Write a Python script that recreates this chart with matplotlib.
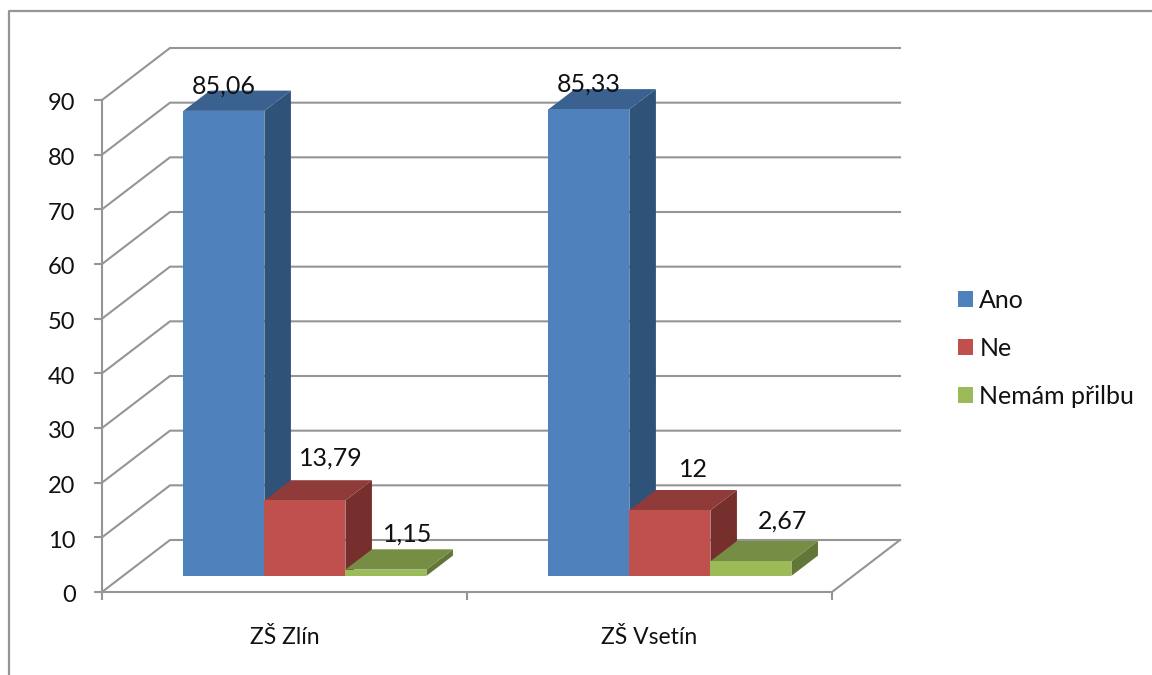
import matplotlib
matplotlib.use('Agg')
import matplotlib.pyplot as plt
from matplotlib.lines import Line2D
from matplotlib.patches import Polygon
from matplotlib.transforms import ScaledTranslation

plt.rcParams['font.family'] = ['Lato', 'DejaVu Sans']

categories = ['ZŠ Zlín', 'ZŠ Vsetín']
series_names = ['Ano', 'Ne', 'Nemám přilbu']
ano = [85.06, 85.33]
ne = [13.79, 12]
nemam = [1.15, 2.67]
y_ticks = [0, 10, 20, 30, 40, 50, 60, 70, 80, 90]

# front, top, side shades for each series
front_colors = ['#4F81BD', '#C0504D', '#9BBB59']
top_colors = ['#3B6190', '#8F3B39', '#758E43']
side_colors = ['#2F5279', '#772F2D', '#617637']

# hand placed label shifts in pixels, per series then per category
label_shift = [[(0, 25), (0, 25)], [(26, 42), (24, 41)], [(22, 36), (32, 40)]]

W, H = 1152, 675
LEFT, RIGHT, TOP, BOTTOM = 102, 832, 100, 592
GRAY = '#959595'
TEXT = '#111111'

fig = plt.figure(figsize=(W / 100, H / 100), dpi=100)
ax = fig.add_axes([LEFT / W, 1 - BOTTOM / H, (RIGHT - LEFT) / W, (BOTTOM - TOP) / H])
ax.set_xlim(0, len(categories))
ax.set_ylim(0, 90)
ax.patch.set_alpha(0)

# depth of the oblique projection, in data units
wall_dx = 68 / (RIGHT - LEFT) * len(categories)
wall_dy = 52 / (BOTTOM - TOP) * 90

# gridlines run up the side wall and along the back wall
for v in y_ticks:
    ax.plot([0, wall_dx, len(categories) + wall_dx], [v, v + wall_dy, v + wall_dy],
            color=GRAY, lw=1.5, clip_on=False, zorder=1, solid_joinstyle='miter')
ax.plot([len(categories), len(categories) + wall_dx], [0, wall_dy],
        color=GRAY, lw=1.5, clip_on=False, zorder=1)

# bars stand inside the floor, a fraction of the way back
base = 0.30
depth = 0.39
bar_w = 0.222
gap = (1 - 3 * bar_w) / 2
z = 3
for s, (values, name) in enumerate(zip([ano, ne, nemam], series_names)):
    lefts = [i + gap + s * bar_w + base * wall_dx for i in range(len(categories))]
    bottom = 0.31 * wall_dy
    bars = ax.bar(lefts, values, bar_w, bottom=bottom, align='edge', color=front_colors[s],
                  label=name, clip_on=False, zorder=z + 2)
    ddx = depth * wall_dx
    ddy = depth * wall_dy
    for x0, v, shift in zip(lefts, values, label_shift[s]):
        y1 = bottom + v
        ax.add_patch(Polygon([(x0, y1), (x0 + ddx, y1 + ddy), (x0 + bar_w + ddx, y1 + ddy), (x0 + bar_w, y1)],
                             closed=True, color=top_colors[s], lw=0, clip_on=False, zorder=z + 1))
        ax.add_patch(Polygon([(x0 + bar_w, bottom), (x0 + bar_w + ddx, bottom + ddy), (x0 + bar_w + ddx, y1 + ddy),
                              (x0 + bar_w, y1)],
                             closed=True, color=side_colors[s], lw=0, clip_on=False, zorder=z))
        ax.annotate(f'{v:g}'.replace('.', ','), (x0 + bar_w / 2, y1), xytext=shift,
                    textcoords='offset pixels', ha='center', va='center', fontsize=18,
                    color=TEXT, zorder=20, annotation_clip=False)
    z += 3

for side in ['top', 'right']:
    ax.spines[side].set_visible(False)
for side in ['left', 'bottom']:
    ax.spines[side].set_color(GRAY)
    ax.spines[side].set_linewidth(1.5)
    ax.spines[side].set_zorder(2)

ax.set_yticks(y_ticks)
ax.tick_params(axis='y', length=6, width=1.5, color=GRAY, pad=13, labelsize=17, labelcolor=TEXT)
# nudge the value labels down a little so they sit level with their ticks
nudge = ScaledTranslation(0, -2 / 100, fig.dpi_scale_trans)
for label in ax.get_yticklabels():
    label.set_verticalalignment('center_baseline')
    label.set_transform(label.get_transform() + nudge)
ax.set_xticks(range(len(categories) + 1))
ax.set_xticklabels([])
ax.tick_params(axis='x', which='major', length=6, width=1.5, color=GRAY)
ax.set_xticks([i + 0.5 for i in range(len(categories))], minor=True)
ax.set_xticklabels(categories, minor=True, fontsize=16.5, color=TEXT)
ax.tick_params(axis='x', which='minor', length=0, pad=25.5)

ax.legend(loc='center left', bbox_to_anchor=(958 / W, 1 - 348 / H), bbox_transform=fig.transFigure,
          frameon=False, fontsize=18, borderpad=0, borderaxespad=0, labelspacing=1.0,
          handlelength=0.6, handleheight=0.6, handletextpad=0.25, labelcolor=TEXT)

# chart area border, open on the right and bottom
fig.add_artist(Line2D([8.5 / W, 8.5 / W, 1], [0, 1 - 11 / H, 1 - 11 / H], color=GRAY, lw=1.6))

fig.savefig('out.png', dpi=100)
